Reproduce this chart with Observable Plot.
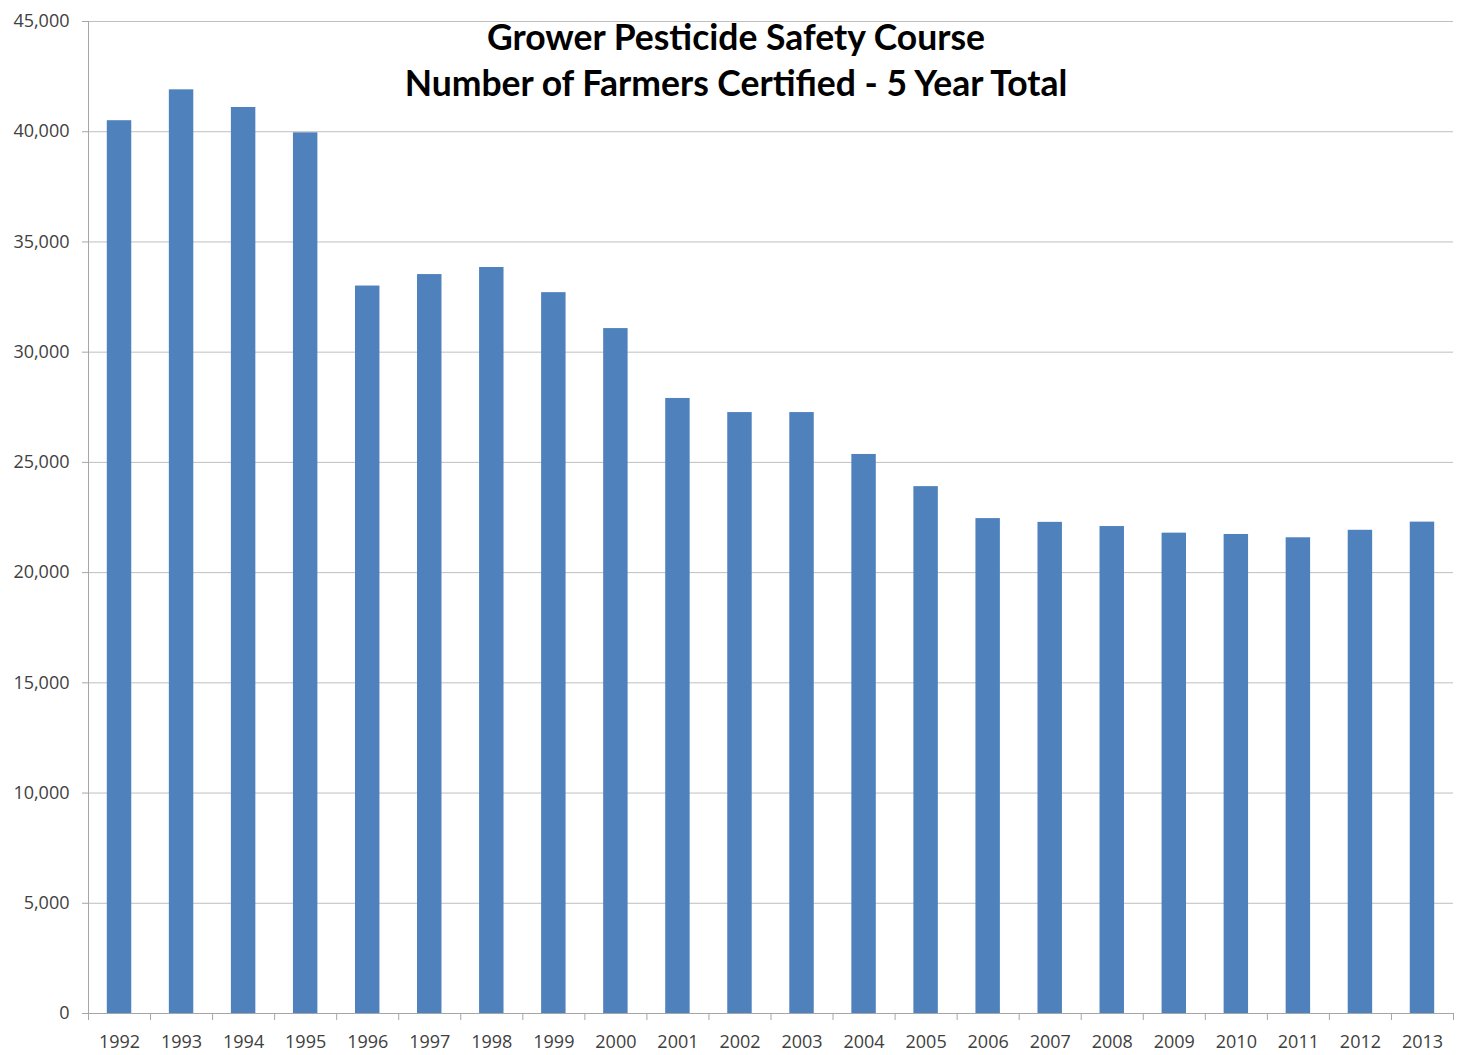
<!DOCTYPE html>
<html>
<head>
<meta charset="utf-8">
<script src="https://cdn.jsdelivr.net/npm/d3@7"></script>
<script src="https://cdn.jsdelivr.net/npm/@observablehq/plot@0.6"></script>
<style>
  html, body { margin: 0; padding: 0; background: #fff; }
  #chart svg { display: block; }
</style>
</head>
<body>
<div id="chart"></div>
<script>
const years = [1992, 1993, 1994, 1995, 1996, 1997, 1998, 1999, 2000, 2001, 2002,
               2003, 2004, 2005, 2006, 2007, 2008, 2009, 2010, 2011, 2012, 2013];
const totals = [40500, 41900, 41100, 39950, 33000, 33520, 33840, 32700, 31070, 27900, 27260,
                27260, 25360, 23900, 22450, 22280, 22090, 21790, 21730, 21580, 21920, 22290];
const yTicks = [0, 5000, 10000, 15000, 20000, 25000, 30000, 35000, 40000, 45000];
const titleLines = ["Grower Pesticide Safety Course", "Number of Farmers Certified - 5 Year Total"];

const data = years.map((year, i) => ({year, total: totals[i]}));
const boundaries = years.map(y => y - 0.5).concat([years[years.length - 1] + 0.5]);

const chart = Plot.plot({
  width: 1461,
  height: 1055,
  marginLeft: 88,
  marginRight: 8,
  marginTop: 21,
  marginBottom: 42,
  style: {fontFamily: "'Open Sans', sans-serif", fontSize: "18px", color: "#404040", background: "#fff"},
  x: {domain: [years[0] - 0.5, years[years.length - 1] + 0.5]},
  y: {domain: [0, 45000]},
  marks: [
    Plot.gridY(yTicks, {stroke: "#bfbfbf", strokeOpacity: 1}),
    Plot.rectY(data, {x1: d => d.year - 0.5, x2: d => d.year + 0.5, y: "total",
                      fill: "#4f81bd", insetLeft: 18.8, insetRight: 18.8}),
    Plot.ruleX([boundaries[0]], {stroke: "#a6a6a6"}),
    Plot.ruleY([0], {stroke: "#a6a6a6"}),
    Plot.axisY(yTicks, {tickSize: 6, tickPadding: 13, tickFormat: d3.format(","),
                        stroke: "#a6a6a6", label: null}),
    Plot.axisX(years, {tickSize: 0, tickPadding: 22, tickFormat: d => String(d), label: null}),
    Plot.axisX(boundaries, {tickSize: 7, tickFormat: () => "", stroke: "#a6a6a6", label: null}),
    Plot.text([titleLines[0]], {text: d => d, frameAnchor: "top", dx: -35, dy: 17, lineAnchor: "middle",
                                fontFamily: "Lato, sans-serif", fontWeight: "bold", fontSize: 35.5, fill: "#000"}),
    Plot.text([titleLines[1]], {text: d => d, frameAnchor: "top", dx: -35, dy: 63, lineAnchor: "middle",
                                fontFamily: "Lato, sans-serif", fontWeight: "bold", fontSize: 35.5, fill: "#000"})
  ]
});
document.getElementById("chart").append(chart);
</script>
</body>
</html>
